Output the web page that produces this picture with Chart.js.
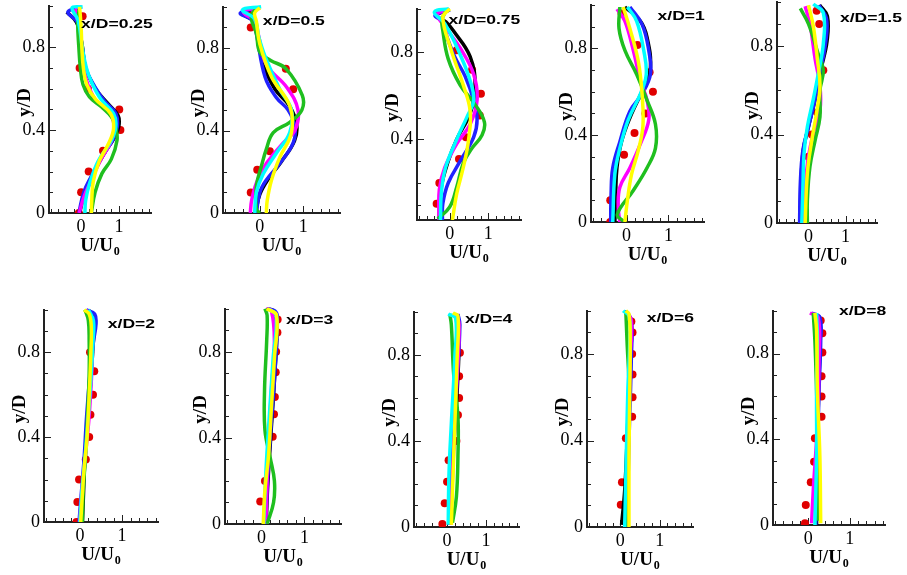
<!DOCTYPE html>
<html>
<head>
<meta charset="utf-8">
<script src="https://cdn.jsdelivr.net/npm/chart.js@4.4.0/dist/chart.umd.min.js"></script>
<style>
  html, body { margin: 0; padding: 0; background: #fff; }
  body { width: 907px; height: 575px; position: relative; overflow: hidden; }
  canvas { position: absolute; }
</style>
</head>
<body>
<script>
// velocity profiles U/U0 vs y/D at ten stations, [U/U0, y/D] pairs

const stations = ['x/D=0.25', 'x/D=0.5', 'x/D=0.75', 'x/D=1', 'x/D=1.5', 'x/D=2', 'x/D=3', 'x/D=4', 'x/D=6', 'x/D=8'];

// x/D = 0.25
const black025 = [[-0.38,0.97],[-0.12,0.92],[0.02,0.82],[0.12,0.7],[0.38,0.6],[0.7,0.53],[0.98,0.47],[1.0,0.42],[0.9,0.37],[0.62,0.29],[0.32,0.19],[0.1,0.1],[-0.04,0.0]];
const blue025 = [[0.02,0.995],[-0.35,0.97],[-0.1,0.92],[0.03,0.8],[0.12,0.7],[0.36,0.61],[0.62,0.54],[0.92,0.48],[0.96,0.42],[0.86,0.36],[0.55,0.27],[0.25,0.17],[0.07,0.1],[-0.06,0.0]];
const magenta025 = [[0.0,0.995],[-0.15,0.975],[-0.04,0.9],[0.0,0.8],[0.06,0.7],[0.18,0.62],[0.4,0.54],[0.76,0.48],[0.88,0.41],[0.78,0.34],[0.5,0.25],[0.25,0.15],[0.08,0.08],[-0.05,0.0]];
const green025 = [[-0.05,0.985],[-0.09,0.92],[-0.06,0.8],[-0.02,0.7],[0.05,0.62],[0.22,0.56],[0.55,0.51],[0.82,0.46],[0.92,0.41],[0.95,0.35],[0.8,0.26],[0.55,0.19],[0.37,0.1],[0.27,0.0]];
const yellow025 = [[-0.04,0.995],[0.0,0.9],[0.02,0.8],[0.06,0.7],[0.15,0.62],[0.38,0.55],[0.78,0.48],[0.86,0.41],[0.74,0.34],[0.48,0.25],[0.32,0.15],[0.28,0.05],[0.27,0.0]];
const cyan025 = [[0.04,0.995],[-0.24,0.99],[-0.08,0.93],[0.03,0.8],[0.14,0.7],[0.28,0.63],[0.52,0.55],[0.86,0.48],[0.92,0.42],[0.8,0.35],[0.45,0.25],[0.22,0.14],[0.12,0.06],[0.1,0.0]];
const exp025 = [[0.04,0.95],[-0.04,0.7],[0.18,0.6],[1.01,0.5],[1.04,0.4],[0.58,0.3],[0.2,0.2],[0.0,0.1],[-0.06,0.0]];

// x/D = 0.5
const black05 = [[0.0,0.995],[-0.42,0.97],[-0.15,0.93],[-0.06,0.86],[0.08,0.72],[0.35,0.6],[0.68,0.52],[0.85,0.43],[0.8,0.35],[0.5,0.25],[0.18,0.16],[0.0,0.09],[-0.1,0.0]];
const blue05 = [[0.0,0.995],[-0.45,0.97],[-0.15,0.93],[-0.08,0.87],[0.12,0.66],[0.38,0.56],[0.65,0.5],[0.81,0.42],[0.77,0.34],[0.46,0.24],[0.15,0.16],[0.0,0.1],[-0.08,0.0]];
const magenta05 = [[-0.05,0.995],[-0.38,0.975],[-0.12,0.93],[-0.04,0.87],[0.15,0.72],[0.62,0.61],[0.88,0.5],[0.81,0.4],[0.54,0.34],[0.15,0.24],[-0.08,0.145],[-0.19,0.06],[-0.22,0.0]];
const green05 = [[-0.1,0.99],[-0.2,0.95],[-0.08,0.87],[0.0,0.78],[0.25,0.74],[0.6,0.7],[0.98,0.57],[0.97,0.5],[0.69,0.44],[0.31,0.39],[0.15,0.31],[0.04,0.23],[-0.08,0.13],[-0.08,0.02],[0.0,0.0]];
const yellow05 = [[0.0,0.995],[-0.12,0.97],[-0.08,0.93],[0.0,0.82],[0.27,0.66],[0.69,0.52],[0.73,0.39],[0.46,0.27],[0.27,0.16],[0.17,0.06],[0.15,0.0]];
const cyan05 = [[0.03,1.0],[-0.4,0.985],[-0.12,0.94],[-0.02,0.85],[0.12,0.76],[0.46,0.6],[0.73,0.5],[0.69,0.39],[0.38,0.29],[0.08,0.19],[-0.08,0.1],[-0.12,0.0]];
const exp05 = [[-0.25,0.96],[-0.21,0.9],[0.6,0.7],[0.77,0.6],[0.23,0.3],[-0.06,0.21],[-0.21,0.1]];

// x/D = 0.75
const black075 = [[0.0,0.995],[-0.35,0.97],[-0.1,0.94],[0.09,0.9],[0.53,0.78],[0.66,0.64],[0.53,0.52],[0.18,0.4],[-0.04,0.3],[-0.22,0.18],[-0.28,0.03]];
const blue075 = [[0.0,0.995],[-0.38,0.97],[-0.18,0.94],[-0.13,0.9],[0.13,0.78],[0.4,0.69],[0.62,0.58],[0.71,0.49],[0.62,0.41],[0.27,0.3],[-0.04,0.2],[-0.18,0.105],[-0.19,0.03]];
const magenta075 = [[-0.05,0.995],[-0.32,0.975],[-0.09,0.91],[0.27,0.82],[0.62,0.7],[0.71,0.58],[0.53,0.47],[0.18,0.38],[-0.13,0.27],[-0.27,0.17],[-0.28,0.03]];
const green075 = [[-0.1,0.99],[-0.2,0.95],[-0.18,0.9],[-0.04,0.77],[0.27,0.65],[0.66,0.56],[0.9,0.48],[0.84,0.42],[0.58,0.36],[0.35,0.29],[0.18,0.18],[0.0,0.09],[-0.31,0.035]];
const yellow075 = [[0.0,1.0],[-0.18,0.96],[0.04,0.81],[0.35,0.65],[0.53,0.53],[0.49,0.4],[0.35,0.27],[0.18,0.15],[0.07,0.03]];
const cyan075 = [[-0.02,1.0],[-0.4,0.985],[-0.12,0.93],[0.27,0.79],[0.53,0.67],[0.62,0.58],[0.44,0.5],[0.18,0.4],[-0.11,0.27],[-0.22,0.15],[-0.24,0.03]];
const exp075 = [[0.18,0.81],[0.58,0.72],[0.81,0.61],[0.78,0.51],[0.42,0.41],[0.24,0.31],[-0.27,0.2],[-0.34,0.105]];

// x/D = 1
const black1 = [[-0.04,0.99],[0.33,0.925],[0.49,0.85],[0.57,0.71],[0.41,0.62],[0.08,0.48],[-0.12,0.37],[-0.23,0.25],[-0.26,0.13],[-0.28,0.0]];
const blue1 = [[0.08,0.99],[0.37,0.91],[0.53,0.79],[0.57,0.68],[0.37,0.59],[0.08,0.51],[-0.16,0.37],[-0.33,0.25],[-0.37,0.13],[-0.38,0.0]];
const magenta1 = [[-0.23,0.98],[-0.04,0.925],[0.16,0.79],[0.33,0.65],[0.49,0.56],[0.53,0.47],[0.33,0.36],[0.08,0.25],[-0.16,0.16],[-0.2,0.07],[-0.16,0.0]];
const green1 = [[-0.16,0.99],[-0.18,0.89],[-0.04,0.79],[0.24,0.68],[0.49,0.56],[0.69,0.45],[0.69,0.34],[0.49,0.25],[0.16,0.145],[-0.22,0.035],[-0.05,0.0]];
const yellow1 = [[-0.08,0.99],[0.08,0.89],[0.28,0.74],[0.37,0.59],[0.39,0.44],[0.28,0.33],[0.12,0.22],[0.02,0.1],[-0.04,0.0]];
const cyan1 = [[0.02,0.99],[0.24,0.925],[0.41,0.79],[0.47,0.68],[0.33,0.59],[0.04,0.47],[-0.16,0.34],[-0.28,0.22],[-0.33,0.0]];
const exp1 = [[-0.12,0.96],[0.26,0.815],[0.55,0.69],[0.63,0.6],[0.45,0.5],[0.19,0.41],[-0.06,0.31],[-0.39,0.1],[-0.39,0.0]];

// x/D = 1.5
const black15 = [[0.3,0.985],[0.51,0.935],[0.5,0.82],[0.33,0.69],[0.18,0.56],[0.0,0.435],[-0.14,0.33],[-0.2,0.18],[-0.22,0.0]];
const blue15 = [[0.28,0.985],[0.49,0.92],[0.45,0.8],[0.31,0.68],[0.18,0.56],[0.0,0.435],[-0.15,0.33],[-0.22,0.18],[-0.24,0.0]];
const magenta15 = [[-0.09,0.98],[0.04,0.9],[0.18,0.74],[0.31,0.62],[0.31,0.51],[0.13,0.405],[0.0,0.3],[-0.09,0.165],[-0.13,0.0]];
const green15 = [[-0.22,0.97],[0.0,0.9],[0.27,0.76],[0.4,0.69],[0.31,0.6],[0.31,0.48],[0.18,0.375],[0.04,0.255],[-0.03,0.105],[-0.03,0.0]];
const yellow15 = [[0.0,0.985],[0.13,0.89],[0.24,0.74],[0.31,0.62],[0.22,0.5],[0.09,0.375],[-0.03,0.225],[-0.09,0.0]];
const cyan15 = [[0.13,0.99],[0.4,0.95],[0.4,0.81],[0.27,0.68],[0.13,0.56],[-0.03,0.435],[-0.12,0.315],[-0.15,0.165],[-0.18,0.0]];
const exp15 = [[0.22,0.96],[0.29,0.9],[0.4,0.69],[0.24,0.5],[0.09,0.4],[0.0,0.3]];

// x/D = 2
const black2 = [[0.06,0.0],[0.08,0.1],[0.12,0.3],[0.2,0.5],[0.27,0.7],[0.33,0.88],[0.36,0.95],[0.2,1.0]];
const blue2 = [[-0.02,0.0],[0.02,0.1],[0.1,0.3],[0.16,0.5],[0.24,0.7],[0.32,0.85],[0.38,0.93],[0.35,0.98],[0.15,1.0]];
const magenta2 = [[0.0,0.0],[0.05,0.15],[0.15,0.35],[0.22,0.5],[0.28,0.7],[0.3,0.85],[0.28,0.95],[0.15,1.0]];
const green2 = [[0.06,0.0],[0.08,0.15],[0.13,0.3],[0.18,0.5],[0.22,0.7],[0.22,0.85],[0.2,0.95],[0.12,1.0]];
const yellow2 = [[0.02,0.0],[0.05,0.1],[0.1,0.25],[0.17,0.4],[0.22,0.6],[0.26,0.8],[0.27,0.92],[0.22,0.98],[0.1,1.0]];
const cyan2 = [[0.0,0.0],[0.05,0.15],[0.12,0.3],[0.2,0.5],[0.27,0.7],[0.31,0.85],[0.32,0.95],[0.2,1.0]];
const exp2 = [[-0.08,0.0],[-0.06,0.094],[-0.02,0.2],[0.14,0.295],[0.22,0.4],[0.25,0.505],[0.31,0.6],[0.34,0.71],[0.24,0.8]];

// x/D = 3
const black3 = [[0.11,0.0],[0.14,0.16],[0.21,0.39],[0.31,0.7],[0.36,0.95],[0.28,0.99],[0.12,1.0]];
const blue3 = [[0.1,0.0],[0.13,0.16],[0.2,0.39],[0.31,0.7],[0.37,0.96],[0.31,0.99],[0.12,1.0]];
const magenta3 = [[0.1,0.0],[0.15,0.3],[0.23,0.62],[0.3,0.85],[0.23,0.99],[0.1,1.0]];
const green3 = [[0.13,0.0],[0.28,0.1],[0.3,0.2],[0.2,0.31],[0.08,0.435],[0.07,0.62],[0.12,0.85],[0.13,0.97],[0.08,1.0]];
const yellow3 = [[0.04,0.0],[0.08,0.16],[0.16,0.31],[0.23,0.54],[0.3,0.77],[0.35,0.97],[0.12,1.0]];
const cyan3 = [[0.05,0.0],[0.1,0.235],[0.16,0.435],[0.27,0.77],[0.34,0.97],[0.15,1.0]];
const exp3 = [[0.375,0.95],[0.37,0.89],[0.34,0.8],[0.33,0.705],[0.31,0.59],[0.29,0.51],[0.26,0.405],[0.08,0.2],[-0.03,0.105]];

// x/D = 4
const black4 = [[0.07,0.01],[0.15,0.32],[0.26,0.63],[0.31,0.91],[0.24,0.99]];
const blue4 = [[0.07,0.01],[0.14,0.32],[0.24,0.63],[0.33,0.94],[0.28,0.99]];
const magenta4 = [[0.09,0.01],[0.16,0.32],[0.24,0.63],[0.31,0.94],[0.24,0.99]];
const green4 = [[0.14,0.02],[0.24,0.14],[0.28,0.33],[0.28,0.51],[0.17,0.71],[0.11,0.94],[0.07,0.99]];
const yellow4 = [[0.11,0.01],[0.14,0.17],[0.2,0.48],[0.26,0.79],[0.28,0.98],[0.15,0.995]];
const cyan4 = [[0.03,0.01],[0.05,0.25],[0.11,0.48],[0.2,0.79],[0.22,0.97],[0.03,0.99]];
const exp4 = [[0.33,0.81],[0.31,0.7],[0.31,0.6],[0.28,0.52],[0.24,0.4],[0.04,0.31],[0.0,0.21],[-0.06,0.11],[-0.12,0.014]];

// x/D = 6
const black6 = [[0.03,0.01],[0.11,0.17],[0.17,0.4],[0.25,0.785],[0.28,0.94],[0.11,1.0]];
const blue6 = [[0.17,0.0],[0.22,0.4],[0.28,0.785],[0.28,0.955],[0.17,0.995]];
const magenta6 = [[0.14,0.0],[0.2,0.4],[0.25,0.785],[0.28,0.955],[0.14,1.0]];
const green6 = [[0.14,0.0],[0.17,0.325],[0.22,0.63],[0.17,0.86],[0.14,0.99]];
const yellow6 = [[0.22,0.0],[0.22,0.325],[0.24,0.63],[0.25,0.86],[0.22,0.985],[0.14,1.0]];
const cyan6 = [[0.11,0.0],[0.15,0.325],[0.19,0.63],[0.24,0.86],[0.22,0.975],[0.07,1.0]];
const exp6 = [[0.28,0.95],[0.31,0.9],[0.3,0.8],[0.31,0.705],[0.31,0.6],[0.3,0.51],[0.14,0.41],[0.04,0.207],[0.01,0.103]];

// x/D = 8
const black8 = [[0.2,0.0],[0.22,0.32],[0.25,0.63],[0.28,0.86],[0.24,0.97]];
const blue8 = [[0.18,0.0],[0.22,0.32],[0.26,0.63],[0.3,0.86],[0.28,0.97],[0.08,0.99]];
const magenta8 = [[0.08,0.008],[0.12,0.16],[0.22,0.47],[0.26,0.78],[0.24,0.97],[0.04,0.99]];
const green8 = [[0.24,0.02],[0.24,0.32],[0.2,0.63],[0.16,0.86],[0.12,0.99]];
const yellow8 = [[0.3,0.008],[0.28,0.32],[0.22,0.63],[0.2,0.91],[0.16,0.99]];
const cyan8 = [[0.16,0.0],[0.2,0.32],[0.2,0.63],[0.22,0.86],[0.2,0.99]];
const exp8 = [[0.3,0.955],[0.34,0.895],[0.34,0.805],[0.32,0.695],[0.32,0.6],[0.32,0.505],[0.16,0.405],[0.14,0.295],[0.06,0.2],[-0.06,0.093],[-0.08,0.008]];

const profiles = [
  { black: black025, blue: blue025, magenta: magenta025, green: green025, yellow: yellow025, cyan: cyan025, exp: exp025 },
  { black: black05, blue: blue05, magenta: magenta05, green: green05, yellow: yellow05, cyan: cyan05, exp: exp05 },
  { black: black075, blue: blue075, magenta: magenta075, green: green075, yellow: yellow075, cyan: cyan075, exp: exp075 },
  { black: black1, blue: blue1, magenta: magenta1, green: green1, yellow: yellow1, cyan: cyan1, exp: exp1 },
  { black: black15, blue: blue15, magenta: magenta15, green: green15, yellow: yellow15, cyan: cyan15, exp: exp15 },
  { black: black2, blue: blue2, magenta: magenta2, green: green2, yellow: yellow2, cyan: cyan2, exp: exp2 },
  { black: black3, blue: blue3, magenta: magenta3, green: green3, yellow: yellow3, cyan: cyan3, exp: exp3 },
  { black: black4, blue: blue4, magenta: magenta4, green: green4, yellow: yellow4, cyan: cyan4, exp: exp4 },
  { black: black6, blue: blue6, magenta: magenta6, green: green6, yellow: yellow6, cyan: cyan6, exp: exp6 },
  { black: black8, blue: blue8, magenta: magenta8, green: green8, yellow: yellow8, cyan: cyan8, exp: exp8 },
];

// plot boxes on the page: [left, right, top, bottom] of the axes, lowest y/D, station label spot (data coords)
const boxes = [
  [49, 151, 5, 213], [223, 340, 6, 213], [417, 521, 8, 220], [591, 704, 4, 222], [777, 877, 1, 223],
  [44, 158, 309, 522], [225, 341, 308, 524], [414, 519, 311, 527], [587, 693, 310, 527], [773, 885, 310, 525],
];
const yMins = [0, 0, 0.03, 0, 0, 0, 0, 0, 0, 0];
const labelAt = [[0.0,0.895],[0.07,0.91],[-0.03,0.93],[0.74,0.93],[0.85,0.91],[0.66,0.916],[0.57,0.93],[0.46,0.95],[0.67,0.95],[0.74,0.98]];

const X_MIN = -0.85, X_MAX = 1.85, Y_MAX = 1.0;
const PAD_L = 60, PAD_R = 40, PAD_T = 14, PAD_B = 62;

// drawn top to bottom (first dataset ends up on top)
const LINES = [
  ['yellow', '#ffff00'],
  ['cyan', '#00ffff'],
  ['green', '#1fbf1f'],
  ['magenta', '#ff00ff'],
  ['blue', '#2222ff'],
  ['black', '#000000'],
];
const RED = '#e00000';
const SERIF = '"Liberation Serif", "Times New Roman", serif';

const near = (v, step) => Math.abs(v / step - Math.round(v / step)) < 1e-6;

const axisDeco = {
  id: 'axisDeco',
  beforeDatasetsDraw(chart) {
    const { ctx, chartArea: a, scales: { x, y } } = chart;
    ctx.save();
    ctx.strokeStyle = '#222';
    ctx.lineWidth = 1;
    y.ticks.forEach(t => {
      const py = Math.round(y.getPixelForValue(t.value)) + 0.5;
      ctx.beginPath();
      ctx.moveTo(a.left, py);
      ctx.lineTo(a.left + (near(t.value, 0.4) ? 7 : 4), py);
      ctx.stroke();
    });
    x.ticks.forEach(t => {
      const px = Math.round(x.getPixelForValue(t.value)) + 0.5;
      ctx.beginPath();
      ctx.moveTo(px, a.bottom);
      ctx.lineTo(px, a.bottom - (near(t.value, 1) ? 7 : 4));
      ctx.stroke();
    });
    ctx.restore();
  },
  afterDraw(chart, args, opts) {
    const { ctx, chartArea: a, scales: { x, y } } = chart;
    ctx.save();
    ctx.fillStyle = '#000';

    // y/D
    ctx.save();
    ctx.translate(a.left - 24, (a.top + a.bottom) / 2 - 7);
    ctx.rotate(-Math.PI / 2);
    ctx.font = 'bold 19px ' + SERIF;
    ctx.textAlign = 'center';
    ctx.textBaseline = 'middle';
    ctx.fillText('y/D', 0, 0);
    ctx.restore();

    // U/U0 with subscript
    ctx.font = 'bold 19px ' + SERIF;
    const w1 = ctx.measureText('U/U').width;
    ctx.font = 'bold 12px ' + SERIF;
    const w2 = ctx.measureText('0').width;
    const sx = (a.left + a.right) / 2 - (w1 + w2 + 1) / 2;
    const by = a.bottom + 38;
    ctx.textAlign = 'left';
    ctx.textBaseline = 'alphabetic';
    ctx.font = 'bold 19px ' + SERIF;
    ctx.fillText('U/U', sx, by);
    ctx.font = 'bold 12px ' + SERIF;
    ctx.fillText('0', sx + w1 + 1, by + 4);

    // station label
    ctx.translate(x.getPixelForValue(opts.at[0]), y.getPixelForValue(opts.at[1]));
    ctx.scale(1.35, 1);
    ctx.font = 'bold 13px "Liberation Sans", Arial, sans-serif';
    ctx.fillText(opts.text, 0, 0);
    ctx.restore();
  }
};

const toXY = arr => arr.map(([u, v]) => ({ x: u, y: v }));

profiles.forEach((prof, i) => {
  const [L, R, T, B] = boxes[i];
  const canvas = document.createElement('canvas');
  canvas.width = R - L + PAD_L + PAD_R;
  canvas.height = B - T + PAD_T + PAD_B;
  canvas.style.left = (L - PAD_L) + 'px';
  canvas.style.top = (T - PAD_T) + 'px';
  document.body.appendChild(canvas);

  const clip = { left: 10, top: 10, right: 10, bottom: 0 };
  const datasets = LINES.map(([key, color]) => ({
    data: toXY(prof[key]),
    showLine: true,
    borderColor: color,
    borderWidth: 3.5,
    pointRadius: 0,
    tension: 0.4,
    fill: false,
    clip,
  }));
  datasets.push({
    data: toXY(prof.exp),
    showLine: false,
    pointRadius: 4,
    pointBackgroundColor: RED,
    pointBorderWidth: 0,
    clip,
  });

  new Chart(canvas.getContext('2d'), {
    type: 'scatter',
    data: { datasets },
    plugins: [axisDeco],
    options: {
      responsive: false,
      devicePixelRatio: 1,
      animation: false,
      events: [],
      layout: { padding: { top: PAD_T, right: PAD_R, left: 0, bottom: 0 } },
      plugins: {
        legend: { display: false },
        tooltip: { enabled: false },
        axisDeco: { text: stations[i], at: labelAt[i] },
      },
      scales: {
        x: {
          type: 'linear',
          min: X_MIN,
          max: X_MAX,
          afterFit: s => { s.height = PAD_B; },
          grid: { display: false, drawTicks: false },
          border: { display: true, color: '#222', width: 2 },
          ticks: {
            stepSize: 0.2,
            includeBounds: false,
            autoSkip: false,
            maxRotation: 0,
            padding: 3,
            color: '#000',
            font: { family: SERIF, size: 18 },
            callback: v => (Math.abs(v) < 1e-9 ? '0' : Math.abs(v - 1) < 1e-9 ? '1' : ''),
          },
        },
        y: {
          type: 'linear',
          min: yMins[i],
          max: Y_MAX,
          afterFit: s => { s.width = PAD_L; },
          grid: { display: false, drawTicks: false },
          border: { display: true, color: '#222', width: 2 },
          ticks: {
            stepSize: 0.1,
            includeBounds: false,
            autoSkip: false,
            padding: 4,
            color: '#000',
            font: { family: SERIF, size: 18 },
            callback: v => (Math.abs(v) < 1e-9 ? '0' : near(v, 0.4) ? v.toFixed(1) : ''),
          },
        },
      },
    },
  });
});
</script>
</body>
</html>
